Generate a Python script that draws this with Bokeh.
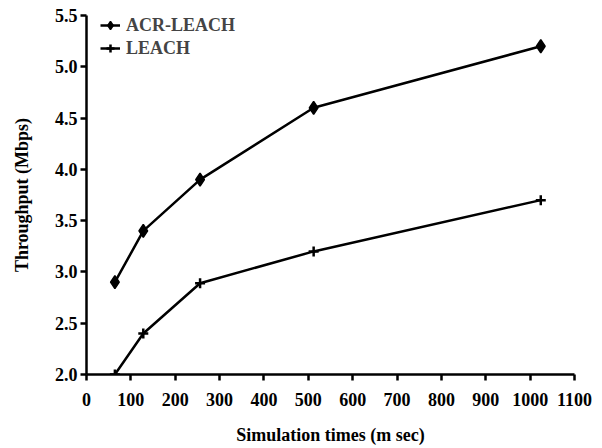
from bokeh.plotting import figure
from bokeh.models import FixedTicker, NumeralTickFormatter, Legend, LegendItem, Range1d
from bokeh.embed import file_html
from bokeh.resources import INLINE

sim_times = [64, 128, 256, 512, 1024]
acr_leach = [2.9, 3.4, 3.9, 4.6, 5.2]
leach = [2.0, 2.4, 2.89, 3.2, 3.7]
x_ticks = [0, 100, 200, 300, 400, 500, 600, 700, 800, 900, 1000, 1100]
y_ticks = [2.0, 2.5, 3.0, 3.5, 4.0, 4.5, 5.0, 5.5]

FONT = "Times"

p = figure(width=594, height=447, output_backend="svg", toolbar_location=None,
           x_range=Range1d(0, 1100), y_range=Range1d(2.0, 5.5),
           min_border_left=86, min_border_right=20, min_border_top=15, min_border_bottom=72)
p.outline_line_color = None
p.xgrid.visible = False
p.ygrid.visible = False

l1 = p.line(sim_times, acr_leach, line_color="black", line_width=2.5)
s1 = p.scatter(sim_times, acr_leach, marker="diamond", size=13,
               fill_color="black", line_color="black", line_width=1.5)
l2 = p.line(sim_times, leach, line_color="black", line_width=2.5)
s2 = p.scatter(sim_times, leach, marker="cross", size=10, line_color="black", line_width=2.5)

p.axis.axis_line_width = 2.5
p.axis.major_tick_line_width = 2.5
p.axis.major_tick_out = 6
p.axis.major_tick_in = 0
p.axis.minor_tick_line_color = None
p.axis.major_label_text_font = FONT
p.axis.axis_label_text_font = FONT
p.axis.major_label_text_font_style = "bold"
p.axis.major_label_text_font_size = "18px"
p.axis.axis_label_text_font_style = "bold"
p.axis.axis_label_text_font_size = "18px"
p.axis.major_label_text_color = "black"
p.axis.axis_label_text_color = "black"

p.xaxis.ticker = FixedTicker(ticks=x_ticks)
p.yaxis.ticker = FixedTicker(ticks=y_ticks)
p.yaxis.formatter = NumeralTickFormatter(format="0.0")
p.xaxis.axis_label = "Simulation times (m sec)"
p.yaxis.axis_label = "Throughput (Mbps)"
p.xaxis.major_label_standoff = 12
p.yaxis.major_label_standoff = 3
p.xaxis.axis_label_standoff = 16
p.yaxis.axis_label_standoff = 20

legend = Legend(items=[LegendItem(label="ACR-LEACH", renderers=[l1, s1]),
                       LegendItem(label="LEACH", renderers=[l2, s2])],
                location=(14, 360 - 45), padding=0, margin=0, spacing=1,
                glyph_width=20, glyph_height=22, label_height=22, label_standoff=6,
                border_line_color=None, background_fill_alpha=0,
                label_text_font=FONT, label_text_font_style="bold", label_text_font_size="18px")
p.add_layout(legend)

open("out.html", "w").write(file_html(p, INLINE))
